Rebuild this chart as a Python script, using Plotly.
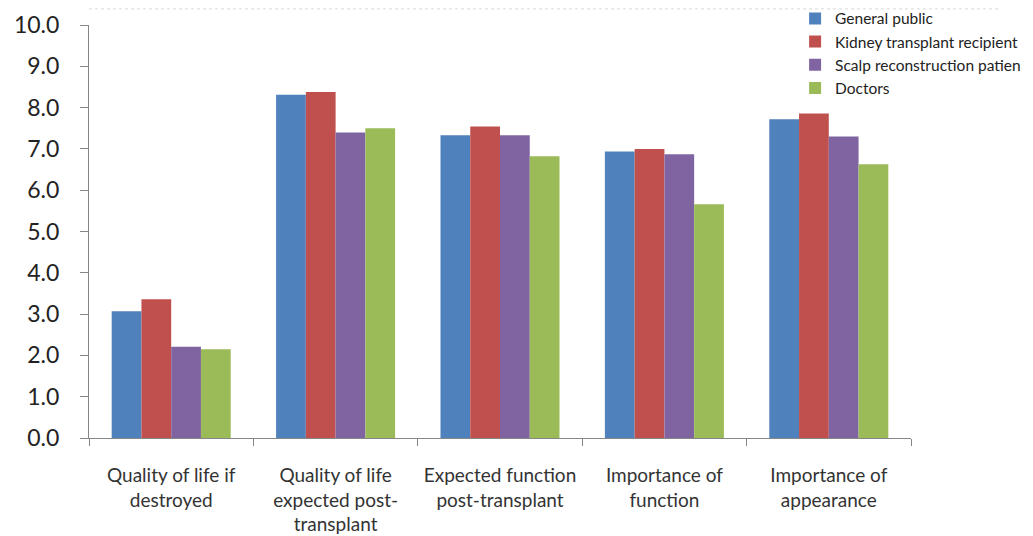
import plotly.graph_objects as go

categories = [
    "Quality of life if<br>destroyed",
    "Quality of life<br>expected post-<br>transplant",
    "Expected function<br>post-transplant",
    "Importance of<br>function",
    "Importance of<br>appearance",
]
series_names = ["General public", "Kidney transplant recipient",
                "Scalp reconstruction patien", "Doctors"]
general_public = [3.07, 8.31, 7.33, 6.94, 7.72]
kidney_recipient = [3.36, 8.38, 7.54, 7.00, 7.86]
scalp_patient = [2.21, 7.40, 7.33, 6.87, 7.30]
doctors = [2.15, 7.50, 6.82, 5.66, 6.63]
y_ticks = [0, 1, 2, 3, 4, 5, 6, 7, 8, 9, 10]

colors = ["#4F81BD", "#C0504D", "#8064A2", "#9BBB59"]
values = [general_public, kidney_recipient, scalp_patient, doctors]

fig = go.Figure()
for name, vals, col in zip(series_names, values, colors):
    fig.add_trace(go.Bar(x=categories, y=vals, name=name,
                         marker=dict(color=col, line=dict(width=0))))

fig.update_layout(
    width=1033, height=536,
    margin=dict(l=81, r=130, t=17, b=106, autoexpand=False),
    paper_bgcolor="white", plot_bgcolor="white",
    barmode="group", bargap=0.276, bargroupgap=0,
    font=dict(family="Lato", color="#333333"),
    showlegend=True,
    legend=dict(x=0.859, y=1.056, xanchor="left", yanchor="top",
                font=dict(size=15.5, color="#222222"),
                bgcolor="rgba(0,0,0,0)", tracegroupgap=0),
    xaxis=dict(type="category", showline=True, linecolor="#868686", linewidth=1,
               ticks="outside", ticklen=7, tickcolor="#868686", tickson="boundaries",
               tickfont=dict(size=19, color="#333333"), showgrid=False,
               ticklabelstandoff=20),
    yaxis=dict(range=[0, 10], tickvals=y_ticks, tickformat=".1f",
               showline=True, linecolor="#868686", linewidth=1,
               ticks="outside", ticklen=8, tickcolor="#868686",
               tickfont=dict(size=23, color="#222222"), showgrid=False,
               zeroline=False, ticklabelstandoff=16),
    shapes=[dict(type="line", xref="paper", yref="paper", x0=0.0, x1=1.108,
                 y0=1.039, y1=1.039, line=dict(color="#D9D9D9", width=1, dash="dot"))],
)

fig.write_html("out.html")
